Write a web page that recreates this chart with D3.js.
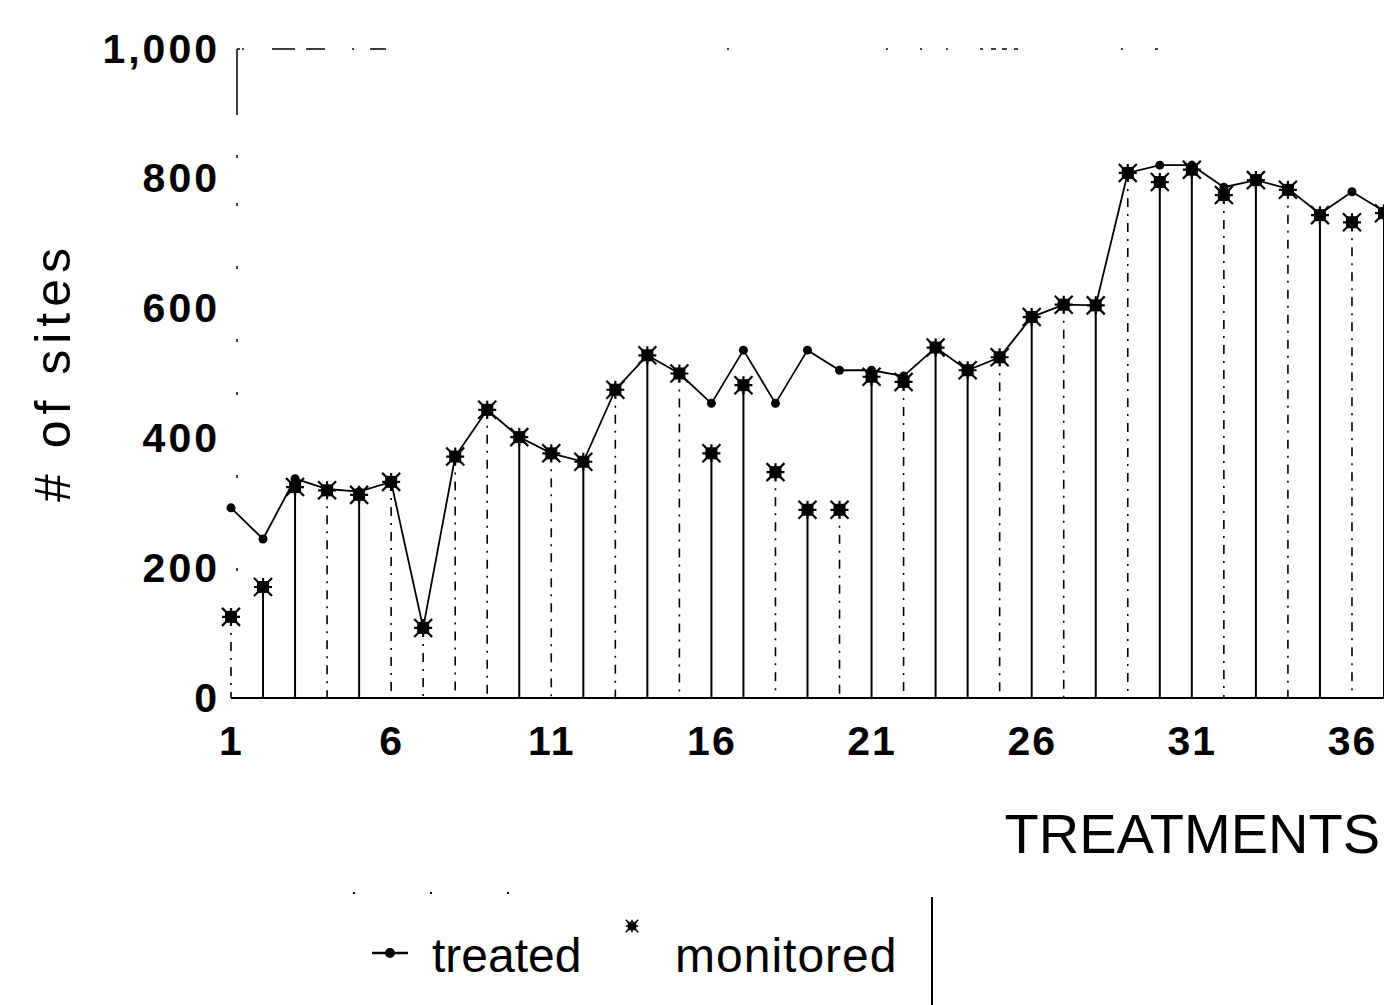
<!DOCTYPE html>
<html>
<head>
<meta charset="utf-8">
<script src="https://cdn.jsdelivr.net/npm/d3@7"></script>
<style>
  body { margin: 0; background: #fff; }
  svg { display: block; }
  text { font-family: "Liberation Sans", Arial, sans-serif; fill: #000; }
</style>
</head>
<body>
<svg id="chart" width="1384" height="1005"></svg>
<script>
// treatment numbers 1..37 (chart is cut off on the right)
const treatments = d3.range(1, 38);

// number of sites treated per treatment
const treated = [293, 245, 338, 322, 318, 333, 108, 372, 444, 402,
                 377, 364, 475, 528, 500, 454, 536, 454, 536, 505,
                 505, 496, 540, 505, 525, 587, 606, 605, 809, 821,
                 821, 787, 798, 785, 746, 780, 750];

// number of sites monitored per treatment
const monitored = [125, 171, 325, 320, 313, 333, 108, 372, 444, 402,
                   377, 364, 475, 528, 500, 377, 482, 348, 290, 290,
                   495, 487, 540, 505, 525, 587, 606, 605, 809, 795,
                   814, 775, 798, 783, 744, 733, 747];

const yTicks = [0, 200, 400, 600, 800, 1000];
const xTicks = [1, 6, 11, 16, 21, 26, 31, 36];

const svg = d3.select("#chart");

// scales
const x = d3.scaleLinear().domain([1, 37]).range([231, 1384]);
const y = d3.scaleLinear().domain([0, 1000]).range([698, 49]);

// drop lines that come out solid in the scan, the rest are broken
const solidDrops = new Set([2, 3, 5, 10, 12, 14, 16, 17, 19, 21, 23, 24, 26, 28, 30, 31, 33, 35, 37]);

// frame: left axis and top line (faint, broken like the original)
svg.append("line")
  .attr("x1", 237).attr("x2", 237)
  .attr("y1", y(1000)).attr("y2", y(0))
  .attr("stroke", "#000").attr("stroke-width", 1.5)
  .attr("stroke-dasharray", "66 40 3 45 3 60 3 70 3 50 3 80 3 90 3 200");

svg.append("line")
  .attr("x1", 237).attr("x2", 1170)
  .attr("y1", y(1000)).attr("y2", y(1000))
  .attr("stroke", "#000").attr("stroke-width", 1.5)
  .attr("stroke-dasharray",
        "3 2 2 28 23 11 19 27 2 16 16 341 2 157 2 32 2 24 2 32 3 8 5 6 5 7 4 103 2 32 3 2000");

// bottom axis line
svg.append("line")
  .attr("x1", x(1)).attr("x2", 1384)
  .attr("y1", y(0)).attr("y2", y(0))
  .attr("stroke", "#000").attr("stroke-width", 2);

// drop lines from the monitored value to 0
svg.append("g")
  .selectAll("line")
  .data(treatments)
  .enter().append("line")
  .attr("x1", d => x(d)).attr("x2", d => x(d))
  .attr("y1", (d, i) => y(monitored[i]))
  .attr("y2", y(0))
  .attr("stroke", "#000")
  .attr("stroke-width", d => solidDrops.has(d) ? 2 : 1.6)
  .attr("stroke-dasharray", d => solidDrops.has(d) ? null : "9 7 2 7");

// treated line
const line = d3.line()
  .x((d, i) => x(treatments[i]))
  .y(d => y(d));

svg.append("path")
  .datum(treated)
  .attr("d", line)
  .attr("fill", "none")
  .attr("stroke", "#000")
  .attr("stroke-width", 1.8);

svg.append("g")
  .selectAll("circle")
  .data(treated)
  .enter().append("circle")
  .attr("cx", (d, i) => x(treatments[i]))
  .attr("cy", d => y(d))
  .attr("r", 4.5)
  .attr("fill", "#000");

// asterisk marker for monitored
function asterisk(g, s) {
  g.append("rect")
    .attr("x", -6 * s).attr("y", -6 * s)
    .attr("width", 12 * s).attr("height", 12 * s)
    .attr("fill", "#000");
  g.append("path")
    .attr("d", `M${-9 * s},${-9 * s}L${9 * s},${9 * s}M${9 * s},${-9 * s}L${-9 * s},${9 * s}` +
               `M0,${-9 * s}L0,${9 * s}M${-9 * s},0L${9 * s},0`)
    .attr("stroke", "#000")
    .attr("stroke-width", 2.2 * s);
}

svg.append("g")
  .selectAll("g")
  .data(monitored)
  .enter().append("g")
  .attr("transform", (d, i) => `translate(${x(treatments[i])},${y(d)})`)
  .each(function () { asterisk(d3.select(this), 1); });

// y axis labels
const yAxis = d3.axisLeft(y)
  .tickValues(yTicks)
  .tickFormat(d3.format(","))
  .tickSize(0)
  .tickPadding(17);

const gy = svg.append("g")
  .attr("transform", "translate(237,0)")
  .call(yAxis);
gy.select(".domain").remove();
gy.selectAll("text")
  .attr("font-family", "Liberation Sans, Arial, sans-serif")
  .style("font-size", "41px")
  .style("font-weight", "bold")
  .style("letter-spacing", "3px");

// x axis labels
const xAxis = d3.axisBottom(x)
  .tickValues(xTicks)
  .tickFormat(d3.format("d"))
  .tickSize(0)
  .tickPadding(28);

const gx = svg.append("g")
  .attr("transform", `translate(0,${y(0)})`)
  .call(xAxis);
gx.select(".domain").remove();
gx.selectAll("text")
  .attr("font-family", "Liberation Sans, Arial, sans-serif")
  .style("font-size", "41px")
  .style("font-weight", "bold")
  .style("letter-spacing", "2px");

// axis titles
svg.append("text")
  .attr("transform", "translate(70,372) rotate(-90)")
  .attr("text-anchor", "middle")
  .style("font-size", "50px")
  .style("letter-spacing", "6px")
  .text("# of sites");

svg.append("text")
  .attr("x", 1380)
  .attr("y", 853)
  .attr("text-anchor", "end")
  .style("font-size", "56px")
  .text("TREATMENTS");

// legend
const legend = svg.append("g");

legend.append("line")
  .attr("x1", 353).attr("x2", 550)
  .attr("y1", 893).attr("y2", 893)
  .attr("stroke", "#000").attr("stroke-width", 2)
  .attr("stroke-dasharray", "2 75");

legend.append("line")
  .attr("x1", 372).attr("x2", 408)
  .attr("y1", 953).attr("y2", 953)
  .attr("stroke", "#000").attr("stroke-width", 2.5);
legend.append("circle")
  .attr("cx", 390).attr("cy", 953).attr("r", 5)
  .attr("fill", "#000");
legend.append("text")
  .attr("x", 432).attr("y", 972)
  .style("font-size", "48px")
  .text("treated");

asterisk(legend.append("g").attr("transform", "translate(632,926)"), 0.7);
legend.append("text")
  .attr("x", 675).attr("y", 972)
  .style("font-size", "48px")
  .style("letter-spacing", "1px")
  .text("monitored");

legend.append("line")
  .attr("x1", 932).attr("x2", 932)
  .attr("y1", 897).attr("y2", 1005)
  .attr("stroke", "#000").attr("stroke-width", 2);
</script>
</body>
</html>
